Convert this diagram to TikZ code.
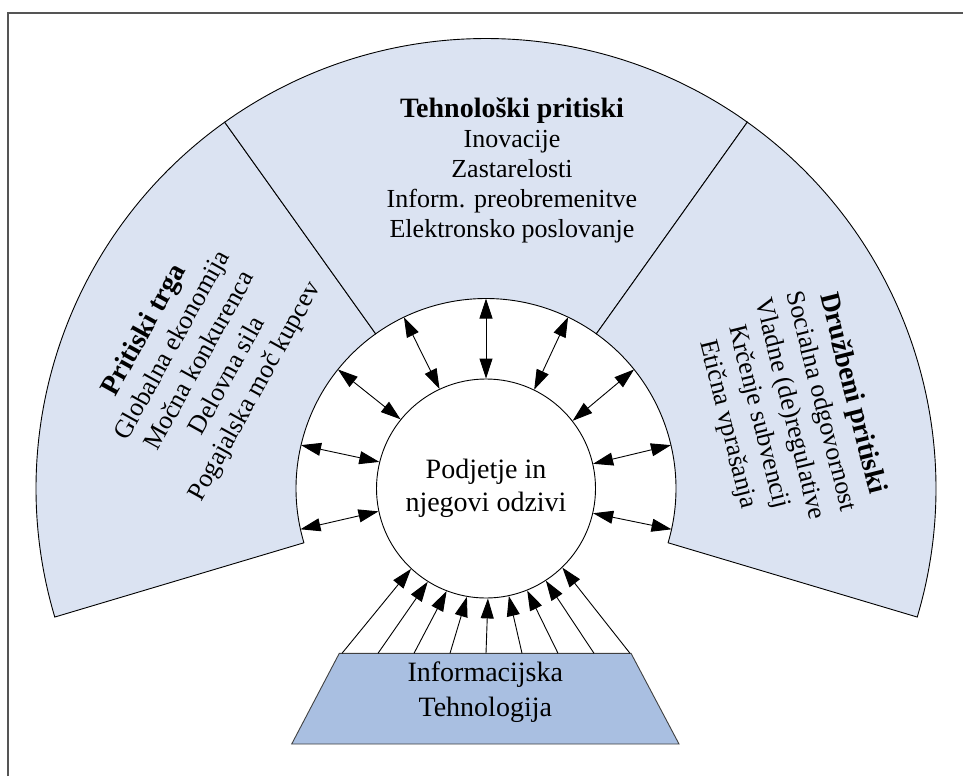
\documentclass[tikz,border=0pt]{standalone}
\usepackage{fontspec}
\setmainfont{Liberation Serif}
\usetikzlibrary{arrows.meta,calc}
\definecolor{sectorfill}{HTML}{DBE3F2}
\definecolor{itfill}{HTML}{A9BFE1}
\definecolor{framegray}{HTML}{555555}

\begin{document}
\begin{tikzpicture}[x=1pt,y=1pt,
  sectorshape/.style={fill=sectorfill, draw=black, line width=0.9pt},
  linkarrow/.style={line width=0.9pt, {Triangle[length=20pt,width=13pt]}-{Triangle[length=20pt,width=13pt]}},
  feedarrow/.style={line width=0.9pt, -{Triangle[length=20pt,width=13pt]}},
  blocktext/.style={align=center, font=\fontsize{26}{30}\selectfont, inner sep=0pt}
]
\useasboundingbox (0,0) rectangle (963,-776);

% frame lines
\draw[framegray, line width=1.3pt] (8,-776) -- (8,-13) -- (963,-13);

\coordinate (C) at (486,-488.5);

\begin{scope}[shift={(C)}]
  % three pressure sectors
  \filldraw[sectorshape] (125.5:190) -- (125.5:450)
    arc[start angle=125.5, end angle=196.6, radius=450] -- (196.6:190)
    arc[start angle=196.6, end angle=125.5, radius=190] -- cycle;
  \filldraw[sectorshape] (54.5:190) -- (54.5:450)
    arc[start angle=54.5, end angle=125.5, radius=450] -- (125.5:190)
    arc[start angle=125.5, end angle=54.5, radius=190] -- cycle;
  \filldraw[sectorshape] (-16.6:190) -- (-16.6:450)
    arc[start angle=-16.6, end angle=54.5, radius=450] -- (54.5:190)
    arc[start angle=54.5, end angle=-16.6, radius=190] -- cycle;

  % the firm in the middle
  \node[circle, draw, fill=white, line width=0.9pt, minimum size=219pt,
        inner sep=0pt, align=center, font=\fontsize{28}{33}\selectfont]
        (firm) at (0,0) {Podjetje in\\njegovi odzivi};

  % two-way links between the firm and the pressures
  \foreach \a [count=\i] in {347.6,13.2,38.8,64.4,90,115.6,141.2,166.8,192.4} {
    \coordinate (ring\i) at (\a:190);
    \draw[linkarrow] (firm.\a) -- (ring\i);
  }
\end{scope}

% information technology base
\filldraw[fill=itfill, draw=black!75, line width=0.9pt]
  (291.7,-744) -- (339.3,-653.3) -- (631,-653.3) -- (679,-744) -- cycle;
\node[font=\fontsize{28}{35}\selectfont, align=center, inner sep=0pt]
  (it) at (485.3,-692.6) {Informacijska\\Tehnologija};

\foreach \k in {0,...,8} {
  \pgfmathsetmacro\ang{227.6+10.9*\k}
  \coordinate (src\k) at ({342+36*\k},-653.3);
  \draw[feedarrow] (src\k) -- (firm.\ang);
}

% sector texts
\node[blocktext] (tech) at (512,-170.8)
  {{\fontsize{28}{30}\selectfont\bfseries Tehnološki pritiski}\\Inovacije\\Zastarelosti\\Inform. preobremenitve\\Elektronsko poslovanje};

\node[blocktext, font=\fontsize{26}{31.5}\selectfont, rotate=61] (market) at (200,-361)
  {{\fontsize{28}{31.5}\selectfont\bfseries Pritiski trga}\\Globalna ekonomija\\Močna konkurenca\\Delovna sila\\Pogajalska moč kupcev};

\node[blocktext, font=\fontsize{26}{32}\selectfont, rotate=-76] (social) at (790,-409)
  {{\fontsize{28}{32}\selectfont\bfseries Družbeni pritiski}\\Socialna odgovornost\\Vladne (de)regulative\\Krčenje subvencij\\Etična vprašanja};
\end{tikzpicture}
\end{document}
